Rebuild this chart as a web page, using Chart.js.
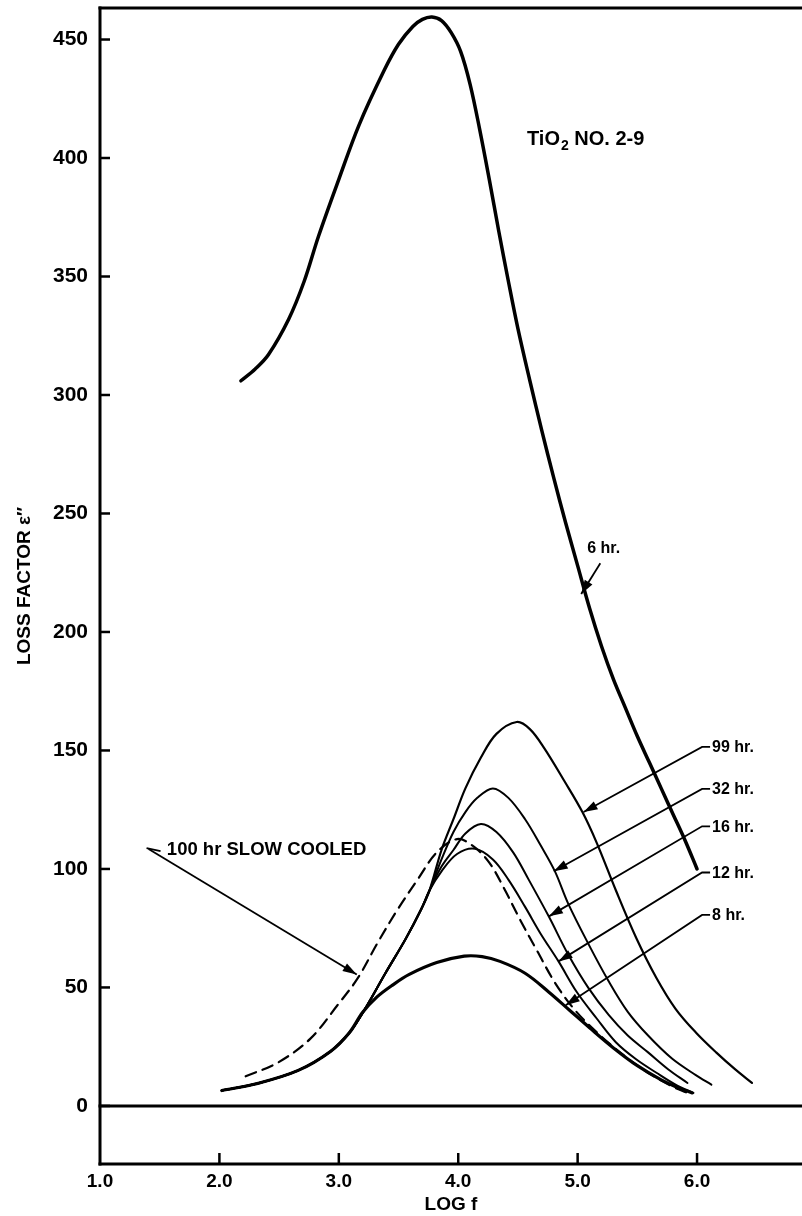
<!DOCTYPE html>
<html><head><meta charset="utf-8">
<script src="https://cdn.jsdelivr.net/npm/chart.js@4.4.0/dist/chart.umd.min.js"></script>
<style>html,body{margin:0;padding:0;background:#fff;}canvas{display:block;}</style>
</head><body>
<canvas id="c" width="802" height="1216"></canvas>
<script>
// ---- tick values ----
const xTicks = [1, 2, 3, 4, 5, 6];
const yTicks = [0, 50, 100, 150, 200, 250, 300, 350, 400, 450];

// ---- series (log f, loss factor) ----
const hr6LogF = [2.18,2.30,2.41,2.58,2.71,2.83,3.00,3.17,3.38,3.50,3.62,3.70,3.78,3.86,3.94,4.02,4.10,4.18,4.26,4.34,4.42,4.50,4.60,4.70,4.80,4.90,5.00,5.10,5.20,5.30,5.40,5.50,5.60,5.70,5.80,5.90,6.00];
const hr6Loss = [306,311,317,332,348,367,391,414,437,448,455.5,458.5,459.5,458,453,445,431,412,391,369,348,328,306,285,265,246,228,210,194,180,168,156,145,134,123,112,100];

const hr8LogF = [2.02,2.32,2.66,2.93,3.09,3.20,3.32,3.45,3.59,3.82,4.05,4.20,4.35,4.56,4.76,4.93,5.10,5.30,5.50,5.70,5.85,5.96];
const hr8Loss = [6.5,9.5,15,23,31,39.5,46,51,55.5,60.5,63.2,63,61,56,48,40.5,33,24.5,17,11,7.5,5.5];

const hr12LogF = [2.02,2.32,2.66,2.93,3.09,3.22,3.39,3.56,3.69,3.76,3.86,3.99,4.14,4.29,4.42,4.56,4.69,4.84,4.99,5.16,5.32,5.49,5.66,5.82,5.97];
const hr12Loss = [6.5,9.5,15,23,31,41,56,70.5,83,91,99,106.3,108.5,104,95.5,84,72.7,61,48.3,36.9,26.9,19.7,14,9,5.5];

const hr16LogF = [2.02,2.32,2.66,2.93,3.09,3.22,3.39,3.56,3.69,3.76,3.86,3.96,4.06,4.19,4.32,4.46,4.59,4.76,4.92,5.09,5.26,5.42,5.59,5.76,5.92];
const hr16Loss = [6.5,9.5,15,23,31,41,56,70.5,83,91,101,108,115,119,115.6,107,95.5,79.8,64,49.8,38.4,29.7,22.6,15.4,9.7];

const hr32LogF = [2.02,2.32,2.66,2.93,3.09,3.22,3.39,3.56,3.69,3.76,3.86,3.96,4.06,4.16,4.29,4.42,4.56,4.69,4.81,4.92,5.09,5.26,5.42,5.59,5.79,5.99,6.12];
const hr32Loss = [6.5,9.5,15,23,31,41,56,70.5,83,91,104,115.6,124,130,134,130,121,110,99,85.5,68.4,52.6,39.7,29.7,20,13,9];

const hr99LogF = [2.02,2.32,2.66,2.93,3.09,3.22,3.39,3.56,3.69,3.76,3.86,3.96,4.06,4.19,4.32,4.49,4.60,4.72,4.89,5.04,5.16,5.32,5.49,5.66,5.82,5.99,6.16,6.32,6.46];
const hr99Loss = [6.5,9.5,15,23,31,41,56,70.5,83,91,108,121,134,147,157,162,159,151,137,124,111,91,71,54,41,31,22.6,15.4,9.7];

const slowLogF = [2.22,2.49,2.76,2.99,3.16,3.32,3.49,3.66,3.82,3.99,4.12,4.26,4.39,4.52,4.66,4.82,4.99,5.19,5.39,5.59,5.79,5.92];
const slowLoss = [12.5,18.3,28.3,42.6,54,68.4,82.7,95.5,107,112.6,109.8,102.7,91.2,78.4,65.5,51.2,39.7,29.7,21.2,14,8.3,5.5];

// ---- annotations (in data units) ----
const curveNotes = [
  {text:'99 hr.', at:[6.126,151.5], tip:[5.05,124]},
  {text:'32 hr.', at:[6.126,133.8], tip:[4.80,99]},
  {text:'16 hr.', at:[6.126,118],   tip:[4.76,80]},
  {text:'12 hr.', at:[6.126,98.5],  tip:[4.84,61]},
  {text:'8 hr.',  at:[6.126,80.6],  tip:[4.90,42.5]}
];
const sixNote = {text:'6 hr.', at:[5.08,235], from:[5.19,229], tip:[5.03,216]};
const slowNote = {text:'100 hr SLOW COOLED', at:[1.56,108], from:[1.39,108.4], tip:[3.15,55.5]};
const sampleNote = {at:[4.576,408]};

const FONT = '"Liberation Sans", Arial, sans-serif';
const toPts = (xs, ys) => xs.map((x, i) => ({x: x, y: ys[i]}));
const line = (label, xs, ys, w, dash) => ({
  label, data: toPts(xs, ys), borderColor:'#000', backgroundColor:'#000',
  borderWidth:w, borderDash: dash || [], pointRadius:0, fill:false,
  tension:0.35, borderCapStyle:'round', borderJoinStyle:'round'
});

function arrowHead(ctx, x1, y1, x2, y2, len, w){
  const a = Math.atan2(y2 - y1, x2 - x1);
  ctx.beginPath();
  ctx.moveTo(x2, y2);
  ctx.lineTo(x2 - len*Math.cos(a) + w*Math.sin(a), y2 - len*Math.sin(a) - w*Math.cos(a));
  ctx.lineTo(x2 - len*Math.cos(a) - w*Math.sin(a), y2 - len*Math.sin(a) + w*Math.cos(a));
  ctx.closePath();
  ctx.fill();
}

const bg = {
  id:'bg',
  beforeDraw(chart){
    const ctx = chart.ctx; ctx.save(); ctx.fillStyle='#fff';
    ctx.fillRect(0,0,chart.width,chart.height); ctx.restore();
  }
};

const frame = {
  id:'frame',
  beforeDatasetsDraw(chart){
    const {ctx, chartArea:a, scales:{x, y}} = chart;
    ctx.save();
    ctx.strokeStyle = '#000'; ctx.lineCap = 'square';
    ctx.lineWidth = 3;
    ctx.beginPath(); ctx.moveTo(a.left, a.top); ctx.lineTo(a.right, a.top); ctx.stroke();
    ctx.beginPath(); ctx.moveTo(a.left, a.top); ctx.lineTo(a.left, a.bottom); ctx.stroke();
    ctx.beginPath(); ctx.moveTo(a.left, a.bottom); ctx.lineTo(a.right, a.bottom); ctx.stroke();
    const y0 = y.getPixelForValue(0);
    ctx.beginPath(); ctx.moveTo(a.left, y0); ctx.lineTo(a.right, y0); ctx.stroke();
    ctx.lineWidth = 2.5; ctx.lineCap = 'butt';
    yTicks.forEach(v => { const py = y.getPixelForValue(v);
      ctx.beginPath(); ctx.moveTo(a.left, py); ctx.lineTo(a.left + 10, py); ctx.stroke(); });
    xTicks.slice(1).forEach(v => { const px = x.getPixelForValue(v);
      ctx.beginPath(); ctx.moveTo(px, a.bottom); ctx.lineTo(px, a.bottom - 11); ctx.stroke(); });
    ctx.restore();
  }
};

const notes = {
  id:'notes',
  afterDatasetsDraw(chart){
    const {ctx, scales:{x, y}} = chart;
    const P = p => [x.getPixelForValue(p[0]), y.getPixelForValue(p[1])];
    ctx.save();
    ctx.fillStyle = '#000'; ctx.strokeStyle = '#000'; ctx.lineWidth = 1.8;
    ctx.textBaseline = 'middle'; ctx.textAlign = 'left';
    ctx.font = 'bold 16px ' + FONT;
    curveNotes.forEach(n => {
      const [tx, ty] = P(n.at);
      const [ax, ay] = P(n.tip);
      ctx.fillText(n.text, tx, ty + 1);
      const kx = tx - 10;
      ctx.beginPath(); ctx.moveTo(tx - 2, ty); ctx.lineTo(kx, ty); ctx.lineTo(ax, ay); ctx.stroke();
      arrowHead(ctx, kx, ty, ax, ay, 14, 4.5);
    });
    {
      const [tx, ty] = P(sixNote.at), [fx, fy] = P(sixNote.from), [ax, ay] = P(sixNote.tip);
      ctx.fillText(sixNote.text, tx, ty);
      ctx.beginPath(); ctx.moveTo(fx, fy); ctx.lineTo(ax, ay); ctx.stroke();
      arrowHead(ctx, fx, fy, ax, ay, 14, 4.5);
    }
    {
      const [tx, ty] = P(slowNote.at), [fx, fy] = P(slowNote.from), [ax, ay] = P(slowNote.tip);
      ctx.font = 'bold 18.5px ' + FONT;
      ctx.fillText(slowNote.text, tx, ty);
      ctx.beginPath(); ctx.moveTo(fx + 14, fy + 2); ctx.lineTo(fx, fy - 1); ctx.stroke();
      ctx.beginPath(); ctx.moveTo(fx + 2, fy); ctx.lineTo(ax, ay); ctx.stroke();
      arrowHead(ctx, fx, fy, ax, ay, 14, 4.5);
    }
    {
      const [tx, ty] = P(sampleNote.at);
      ctx.font = 'bold 20px ' + FONT;
      ctx.fillText('TiO', tx, ty);
      const w1 = ctx.measureText('TiO').width;
      ctx.font = 'bold 14px ' + FONT;
      ctx.fillText('2', tx + w1 + 1, ty + 7);
      const w2 = ctx.measureText('2').width;
      ctx.font = 'bold 20px ' + FONT;
      ctx.fillText(' NO. 2-9', tx + w1 + w2 + 1, ty);
    }
    ctx.restore();
  }
};

new Chart(document.getElementById('c'), {
  type:'line',
  data:{
    datasets:[
      line('6 hr.', hr6LogF, hr6Loss, 3.5),
      line('99 hr.', hr99LogF, hr99Loss, 2.2),
      line('32 hr.', hr32LogF, hr32Loss, 2),
      line('16 hr.', hr16LogF, hr16Loss, 2),
      line('12 hr.', hr12LogF, hr12Loss, 2),
      line('8 hr.', hr8LogF, hr8Loss, 3.2),
      line('100 hr slow cooled', slowLogF, slowLoss, 2.2, [11, 7])
    ]
  },
  options:{
    responsive:false, animation:false, devicePixelRatio:1,
    layout:{padding:{top:8, right:0, bottom:0, left:0}},
    plugins:{legend:{display:false}, tooltip:{enabled:false}},
    scales:{
      x:{
        type:'linear', min:1, max:6.879,
        afterBuildTicks: s => { s.ticks = xTicks.map(v => ({value:v})); },
        afterFit: s => { s.height = 52; s.paddingLeft = 0; s.paddingRight = 0; },
        grid:{display:false, drawTicks:false}, border:{display:false},
        ticks:{color:'#000', padding:6, autoSkip:false, maxRotation:0,
          font:{family:FONT, size:19, weight:'bold'}, callback: v => Number(v).toFixed(1)},
        title:{display:true, text:'LOG f', color:'#000', font:{family:FONT, size:19, weight:'bold'}, padding:{top:0, bottom:0}}
      },
      y:{
        type:'linear', min:-24.5, max:463.3,
        afterBuildTicks: s => { s.ticks = yTicks.map(v => ({value:v})); },
        afterFit: s => { s.width = 100; s.paddingTop = 0; s.paddingBottom = 0; },
        grid:{display:false, drawTicks:false}, border:{display:false},
        ticks:{color:'#000', padding:12, font:{family:FONT, size:21, weight:'bold'}, callback: v => String(v)},
        title:{display:true, text:'LOSS FACTOR \u03B5\u2033', color:'#000', font:{family:FONT, size:19, weight:'bold'}, padding:{top:13, bottom:0}}
      }
    }
  },
  plugins:[bg, frame, notes]
});
</script>
</body></html>
